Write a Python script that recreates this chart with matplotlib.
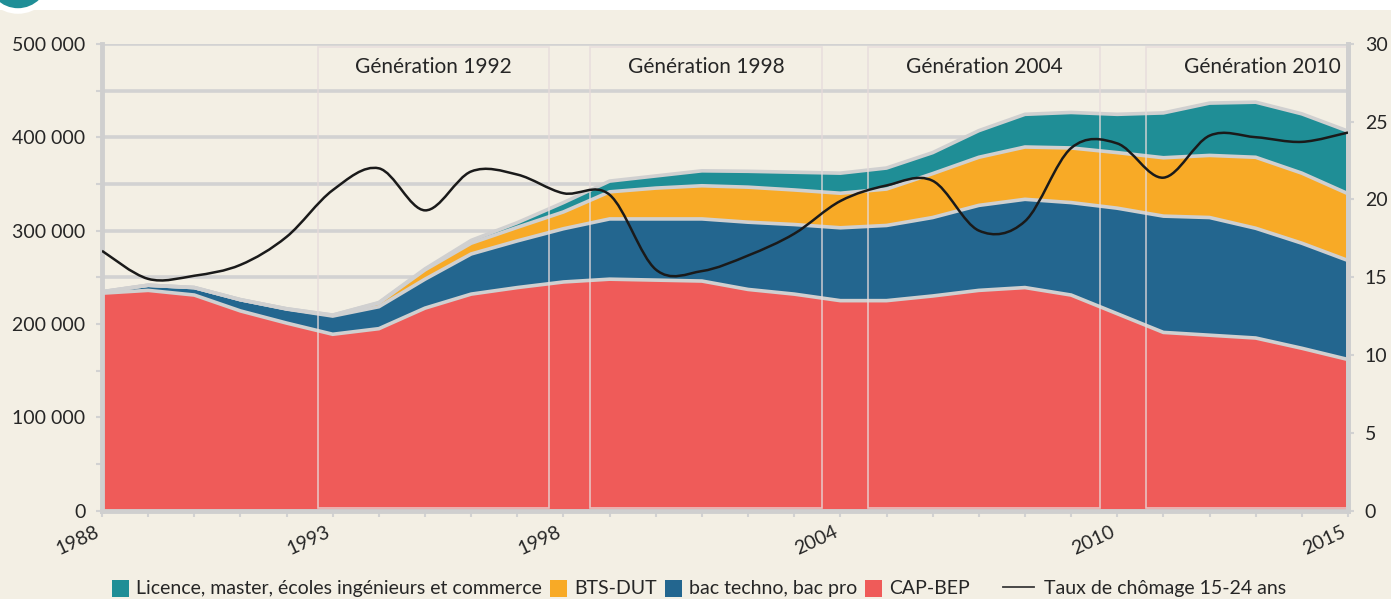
import numpy as np
import matplotlib
matplotlib.use("Agg")
import matplotlib.pyplot as plt
from matplotlib.patches import Rectangle, Circle, PathPatch
from matplotlib.path import Path
from matplotlib.lines import Line2D
from matplotlib.transforms import IdentityTransform
from matplotlib.legend_handler import HandlerPatch

plt.rcParams['font.family'] = ['Lato', 'DejaVu Sans']

years = list(range(1988, 2016))
cap_bep = [233, 236, 231, 214, 201, 189, 195, 217, 232, 239, 245, 248, 247, 246,
           237, 232, 225, 225, 230, 236, 239, 231, 211, 191, 188, 185, 174, 162]
bac_pro = [1.5, 5.5, 8, 12, 15, 19.5, 23.5, 31, 43, 50, 57, 64.5, 65.5, 66.5,
           72, 74.5, 78, 80.5, 84, 91, 94.5, 99, 113, 124.5, 126, 117.5, 112.5, 106]
bts_dut = [0, 0, 0, 0, 0.3, 1, 4, 10, 11.5, 14.5, 18, 29, 33, 35.5,
           37.5, 37, 37, 39, 47, 51.5, 56, 58.5, 59.5, 62.5, 66.5, 76, 75, 71.5]
licence = [0, 0, 0, 0, 0, 0, 0.5, 1, 3, 5, 10, 11.5, 13, 16,
           17, 19, 21.5, 22.5, 22.5, 28.5, 35, 38, 41, 48, 56, 59, 63.5, 67]
chomage = [16.7, 14.9, 15.1, 15.8, 17.6, 20.6, 22.0, 19.3, 21.8, 21.6, 20.4, 20.3, 15.5, 15.4,
           16.4, 17.8, 19.9, 20.9, 21.2, 18.0, 18.6, 23.3, 23.6, 21.4, 24.1, 24.0, 23.7, 24.3]

series_labels = ['Licence, master, écoles ingénieurs et commerce', 'BTS-DUT',
                 'bac techno, bac pro', 'CAP-BEP']
line_label = 'Taux de chômage 15-24 ans'
generations = ['Génération 1992', 'Génération 1998', 'Génération 2004', 'Génération 2010']
gen_start = [1992.67, 1998.58, 2004.6, 2010.63]
gen_width = 5.02
xtick_years = [1988, 1993, 1998, 2004, 2010, 2015]

C_TEAL = '#1f8e96'
C_ORANGE = '#f8aa26'
C_BLUE = '#23668f'
C_RED = '#ef5b59'
BG = '#f3efe4'
GRID = '#d2d2d2'
TXT = '#262626'

W, H = 1391, 599
fig = plt.figure(figsize=(W / 100, H / 100), dpi=100, facecolor=BG)
ax = fig.add_axes([102 / W, (H - 510.8) / H, (1348 - 102) / W, (510.8 - 43.8) / H])
ax.set_facecolor(BG)

x = np.array(years, dtype=float)
layers = np.array([cap_bep, bac_pro, bts_dut, licence]) * 1000
ax.stackplot(x, layers, colors=[C_RED, C_BLUE, C_ORANGE, C_TEAL], linewidth=0, zorder=2)
cum = np.cumsum(layers, axis=0)
for row in cum:
    ax.plot(x, row, color='#d0d0d0', lw=2.6, zorder=3, solid_joinstyle='miter')

ax.set_xlim(1988, 2015)
ax.set_ylim(0, 500000)
ax.set_yticks(np.arange(0, 500001, 50000))
ax.set_yticklabels([f"{v // 1000} 000" if v > 0 and v % 100000 == 0 else ('0' if v == 0 else '')
                    for v in range(0, 500001, 50000)], fontsize=14, color=TXT)
ax.yaxis.grid(True, color=GRID, lw=2.6, zorder=0)
ax.set_axisbelow(True)
ax.tick_params(axis='y', length=4, width=1.5, color=GRID, pad=8)

ax.set_xticks(years, minor=True)
ax.set_xticks(xtick_years)
ax.set_xticklabels([str(y) for y in xtick_years], rotation=25, ha='right', va='top',
                   fontsize=14, color=TXT)
ax.tick_params(axis='x', which='both', length=4, width=1.5, color=GRID, pad=5)

ax.spines['top'].set_visible(False)
for side in ['left', 'bottom', 'right']:
    ax.spines[side].set_color('#cfcfcf')
    ax.spines[side].set_linewidth(3.5)

# generation boxes
for gs, gl in zip(gen_start, generations):
    r = Rectangle((gs, 3000), gen_width, 494000, fill=False,
                  edgecolor=(0.9, 0.86, 0.86, 0.8), lw=1.2, zorder=4)
    ax.add_patch(r)
    ax.text(gs + gen_width / 2, 475000, gl, ha='center', va='center',
            fontsize=15, color=TXT, zorder=5, clip_on=True)

# unemployment line (right axis), smoothed Bezier through yearly points
ax2 = ax.twinx()
ax2.set_ylim(0, 30)
ax2.set_yticks(range(0, 31, 5))
ax2.set_yticklabels([str(v) for v in range(0, 31, 5)], fontsize=14, color=TXT)
ax2.tick_params(axis='y', length=4, width=1.5, color=GRID, pad=8)
for side in ['top', 'left', 'bottom']:
    ax2.spines[side].set_visible(False)
ax2.spines['right'].set_color('#cfcfcf')
ax2.spines['right'].set_linewidth(3.5)

yv = np.array(chomage, dtype=float)
n = len(x)
verts = [(x[0], yv[0])]
codes = [Path.MOVETO]
for i in range(n - 1):
    p0 = np.array([x[max(i - 1, 0)], yv[max(i - 1, 0)]])
    p1 = np.array([x[i], yv[i]])
    p2 = np.array([x[i + 1], yv[i + 1]])
    p3 = np.array([x[min(i + 2, n - 1)], yv[min(i + 2, n - 1)]])
    c1 = p1 + (p2 - p0) / 6
    c2 = p2 - (p3 - p1) / 6
    verts += [tuple(c1), tuple(c2), tuple(p2)]
    codes += [Path.CURVE4] * 3
ax2.add_patch(PathPatch(Path(verts, codes), fill=False, edgecolor='#1a1a1a', lw=1.8, zorder=6))


class SquareHandler(HandlerPatch):
    def create_artists(self, legend, orig_handle, xdescent, ydescent, width, height,
                       fontsize, trans):
        s = height * 1.05
        p = Rectangle((width - s - xdescent, -ydescent - 0.1 * height), s, s,
                      facecolor=orig_handle.get_facecolor(), edgecolor='none')
        p.set_transform(trans)
        return [p]


handles = [Rectangle((0, 0), 1, 1, facecolor=c) for c in [C_TEAL, C_ORANGE, C_BLUE, C_RED]]
hmap = {h: SquareHandler() for h in handles}
leg1 = fig.legend(handles, series_labels, loc='center right',
                  bbox_to_anchor=(970 / W, 0.018), ncol=4, frameon=False, fontsize=14,
                  handlelength=0.95, handleheight=0.9, handletextpad=0.35, columnspacing=0.35,
                  borderpad=0, borderaxespad=0, labelcolor=TXT, handler_map=hmap)
line_handle = Line2D([0], [0], color='#3a3a3a', lw=1.3)
leg2 = fig.legend([line_handle], [line_label], loc='center left',
                  bbox_to_anchor=(1003 / W, 0.018), frameon=False, fontsize=14,
                  handlelength=1.6, handletextpad=0.5, borderpad=0, borderaxespad=0,
                  labelcolor=TXT)

# top white strip and corner badge
fig.add_artist(Rectangle((0, H - 10), W, 10, transform=IdentityTransform(),
                         facecolor='white', edgecolor='none', zorder=10))
fig.add_artist(Circle((18, H + 22), 33, transform=IdentityTransform(),
                      facecolor=C_TEAL, edgecolor='white', lw=4, zorder=11))

fig.savefig('out.png', dpi=100, facecolor=BG)
